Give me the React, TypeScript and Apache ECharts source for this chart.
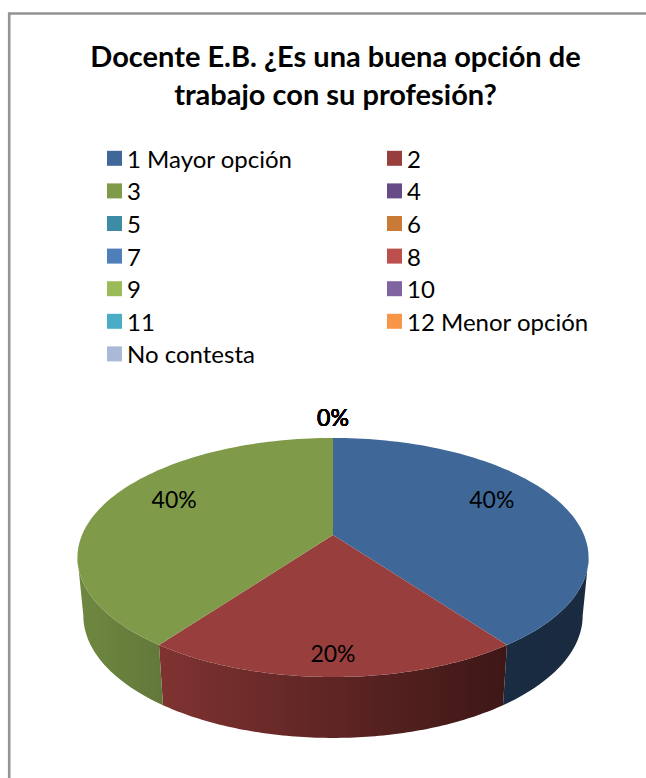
import React, { useEffect, useRef } from "react";
import * as echarts from "echarts";

const titleLines = ["Docente E.B. ¿Es una buena opción de", "trabajo con su profesión?"];
const categories = ["1 Mayor opción", "2", "3", "4", "5", "6", "7", "8", "9", "10", "11", "12 Menor opción", "No contesta"];
const responses = [2, 1, 2, 0, 0, 0, 0, 0, 0, 0, 0, 0, 0];
const topColors = ["#3f6898", "#983f3d", "#7f9a49", "#664b86", "#3b8ca4", "#ca7a37", "#4e7fbb", "#bd4f4c", "#9bbb59", "#8064a2", "#4bacc6", "#f79646", "#aab9d8"];
const sideShades: Record<number, [string, string]> = {
  0: ["#1a2c42", "#1a2b40"],
  1: ["#7f3331", "#3d1716"],
  2: ["#6f8840", "#62783a"],
};

const FONT = "Lato";
const total = responses.reduce((a, b) => a + b, 0);

// Perspective view of the pie disc
const CX = 333;
const TOP_Y = 535;
const RADIUS = 251;
const TILT = 115.3;
const K = 0.188;
const BOTTOM_Y = 592.6;
const BOTTOM_TILT = 118;
const BOTTOM_SCALE = 0.977;

function s(v: number) {
  return 1 / (1 - K * v);
}
function topPt(t: number): number[] {
  const u = Math.sin(t);
  const v = -Math.cos(t);
  return [CX + RADIUS * u * s(v), TOP_Y + TILT * v * s(v)];
}
function botPt(t: number): number[] {
  const u = Math.sin(t);
  const v = -Math.cos(t);
  return [CX + RADIUS * BOTTOM_SCALE * u * s(v), BOTTOM_Y + BOTTOM_TILT * v * s(v)];
}

function App() {
  const ref = useRef<HTMLDivElement>(null);
  useEffect(() => {
    document.body.style.margin = "0";
    const chart = echarts.init(ref.current!, undefined, { renderer: "svg" });

    let acc = 0;
    const series = categories.map((name, i) => {
      const startFrac = acc / total;
      acc += responses[i];
      const endFrac = acc / total;
      const a0 = startFrac * Math.PI * 2;
      const a1 = endFrac * Math.PI * 2;
      const mid = (a0 + a1) / 2;
      return {
        type: "custom",
        name,
        coordinateSystem: "none",
        silent: true,
        itemStyle: { color: topColors[i] },
        data: [[responses[i]]],
        renderItem: (_p: any, api: any) => {
          const value = api.value(0) as number;
          const children: any[] = [];
          if (value > 0) {
            const n = 90;
            const arc: number[] = [];
            for (let k = 0; k <= n; k++) arc.push(a0 + ((a1 - a0) * k) / n);
            const front = arc.filter((t) => -Math.cos(t) >= 0.16);
            const shade = sideShades[i];
            if (front.length > 1 && shade) {
              children.push({
                type: "polygon",
                z2: 1,
                shape: { points: [...front.map(topPt), ...front.slice().reverse().map(botPt)] },
                style: {
                  fill: new echarts.graphic.LinearGradient(0, 0, 1, 0, [
                    { offset: 0, color: shade[0] },
                    { offset: 1, color: shade[1] },
                  ]),
                },
              });
            }
            children.push({
              type: "polygon",
              z2: 2,
              shape: { points: [[CX, TOP_Y], ...arc.map(topPt)] },
              style: { fill: topColors[i] },
            });
          }
          children.push({
            type: "text",
            z2: 3,
            style: {
              text: `${Math.round((value / total) * 100)}%`,
              x: CX + 167 * Math.sin(mid),
              y: TOP_Y - 118 * Math.cos(mid),
              fill: "#000",
              font: `23px ${FONT}`,
              align: "center",
              verticalAlign: "middle",
            },
          });
          return { type: "group", children };
        },
      };
    });

    const legendBase = {
      orient: "vertical",
      top: 142,
      padding: 0,
      icon: "rect",
      itemWidth: 15,
      itemHeight: 15,
      itemGap: 0,
      selectedMode: false,
      textStyle: { fontFamily: FONT, fontSize: 24, color: "#000", lineHeight: 32.6 },
    };

    chart.setOption({
      animation: false,
      backgroundColor: "#fff",
      title: {
        text: titleLines.join("\n"),
        left: 330.5,
        top: 31,
        textAlign: "center",
        textStyle: { fontFamily: FONT, fontWeight: "bold", fontSize: 29, lineHeight: 38, color: "#000" },
      },
      legend: [
        { ...legendBase, left: 107, data: categories.filter((_, i) => i % 2 === 0) },
        { ...legendBase, left: 387, data: categories.filter((_, i) => i % 2 === 1) },
      ],
      graphic: [
        {
          type: "polyline",
          silent: true,
          shape: { points: [[9.2, 778], [9.2, 13.5], [646, 13.5]] },
          style: { fill: "none", stroke: "#939393", lineWidth: 2.6 },
        },
      ],
      series,
    });
    return () => chart.dispose();
  }, []);
  return <div ref={ref} style={{ width: 646, height: 778 }} />;
}

export default App;
